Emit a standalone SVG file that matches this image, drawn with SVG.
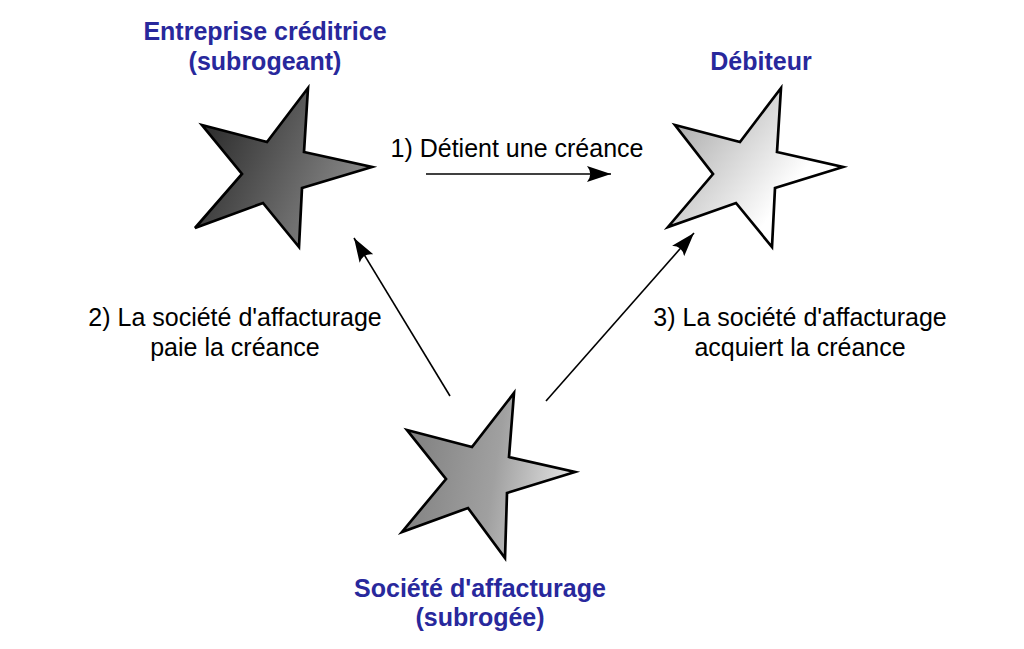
<svg xmlns="http://www.w3.org/2000/svg" width="1024" height="649" viewBox="0 0 1024 649">
  <style>
    .title { font-family: "Liberation Sans", Arial, sans-serif; font-weight: bold; font-size: 25px; fill: #28289c; text-anchor: middle; }
    .label { font-family: "Liberation Sans", Arial, sans-serif; font-size: 25px; fill: #000000; text-anchor: middle; }
    .star { stroke: #000000; stroke-width: 2.7; stroke-linejoin: miter; }
    .conn { stroke: #000000; stroke-width: 1.6; fill: none; }
  </style>
  <defs>
    <linearGradient id="gDark" x1="0" y1="0.2" x2="1" y2="0.6">
      <stop offset="0" stop-color="#262626"/>
      <stop offset="1" stop-color="#8e8e8e"/>
    </linearGradient>
    <linearGradient id="gLight" x1="0" y1="0.2" x2="0.8" y2="0.75">
      <stop offset="0" stop-color="#a8a8a8"/>
      <stop offset="0.85" stop-color="#ffffff"/>
      <stop offset="1" stop-color="#ffffff"/>
    </linearGradient>
    <linearGradient id="gMid" x1="0" y1="0.3" x2="1" y2="0.45">
      <stop offset="0" stop-color="#7e7e7e"/>
      <stop offset="0.55" stop-color="#a0a0a0"/>
      <stop offset="1" stop-color="#e4e4e4"/>
    </linearGradient>
    <marker id="arrow" markerUnits="userSpaceOnUse" markerWidth="26" markerHeight="20" viewBox="0 -10 26 20" refX="24" refY="0" orient="auto">
      <path d="M24,0 L0,-8 Q6.5,0 0,8 Z" fill="#000000"/>
    </marker>
  </defs>

  <g id="connectors">
    <line class="conn" x1="426" y1="174" x2="611" y2="174" marker-end="url(#arrow)"/>
    <line class="conn" x1="450" y1="396" x2="354" y2="238" marker-end="url(#arrow)"/>
    <line class="conn" x1="546" y1="401" x2="694" y2="233" marker-end="url(#arrow)"/>
    <text class="label" x="517" y="157">1) Détient une créance</text>
    <text class="label" x="235" y="326">2) La société d'affacturage</text>
    <text class="label" x="235" y="356">paie la créance</text>
    <text class="label" x="800" y="326">3) La société d'affacturage</text>
    <text class="label" x="800" y="356">acquiert la créance</text>
  </g>

  <g id="node-creditor">
    <polygon class="star" fill="url(#gDark)" points="308,88 304,152 372,167 302,188 299,247 263,203 195,228 242,174 202,125 267,142"/>
    <text class="title" x="265" y="40">Entreprise créditrice</text>
    <text class="title" x="265" y="70">(subrogeant)</text>
  </g>

  <g id="node-debiteur">
    <polygon class="star" fill="url(#gLight)" points="781,88 777,152 843,167 775,188 772,247 736,203 668,227 713,174 675,125 740,142"/>
    <text class="title" x="761" y="70">Débiteur</text>
  </g>

  <g id="node-factor">
    <polygon class="star" fill="url(#gMid)" points="514,393 509,457 575,472 507,493 505,558 468,508 402,532 446,479 407,430 472,447"/>
    <text class="title" x="480" y="597">Société d'affacturage</text>
    <text class="title" x="480" y="626">(subrogée)</text>
  </g>
</svg>
